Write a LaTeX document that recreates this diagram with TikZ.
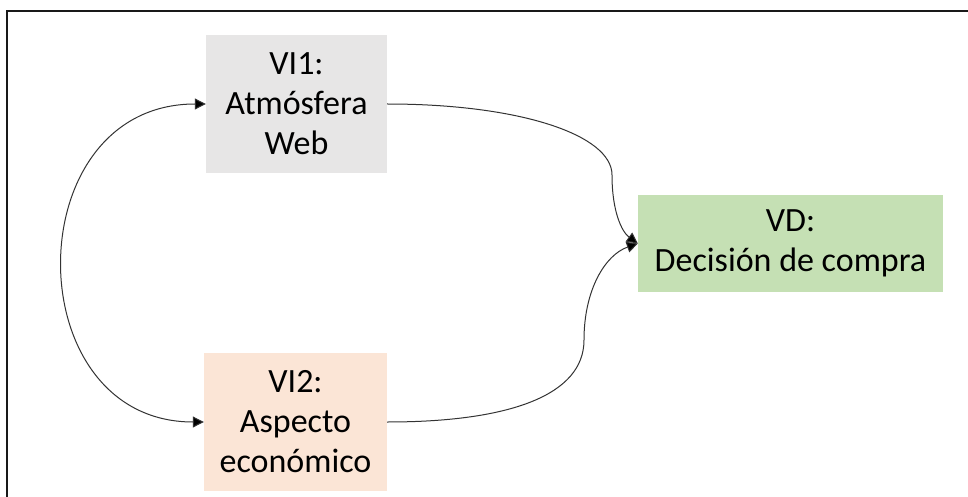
\documentclass[tikz,border=0pt]{standalone}
\usepackage{fontspec}
\setmainfont{Carlito}
\usetikzlibrary{arrows.meta}
\definecolor{grayfill}{HTML}{E7E6E6}
\definecolor{peachfill}{HTML}{FBE5D6}
\definecolor{greenfill}{HTML}{C5E0B4}
\begin{document}
\begin{tikzpicture}[x=1pt,y=-1pt,
  box/.style={rectangle,draw=none,align=center,inner sep=0pt,
    font=\fontsize{34}{40}\selectfont},
  tip/.style={Triangle[length=11pt,width=11pt,fill=black]},
  conn/.style={line width=1pt,draw=black!80,-{Triangle[length=11pt,width=11pt,fill=black]}},
  biconn/.style={line width=1pt,draw=black!80,{Triangle[length=11pt,width=11pt,fill=black]}-{Triangle[length=11pt,width=11pt,fill=black]}}]
\useasboundingbox (0,0) rectangle (968,497);
\fill[white] (0,0) rectangle (968,497);
\draw[line width=2pt,black!90] (6.5,497) -- (6.5,11.5) -- (968,11.5);
\node[box,fill=grayfill,minimum width=181pt,minimum height=138pt] (vi1) at (296.5,104) {VI1:\\Atmósfera\\Web};
\node[box,fill=peachfill,minimum width=183pt,minimum height=138pt] (vi2) at (295.5,422) {VI2:\\Aspecto\\económico};
\node[box,fill=greenfill,minimum width=305pt,minimum height=97pt] (vd) at (790.5,243.5) {VD:\\Decisión de compra};
\draw[biconn] (vi1.west) .. controls (16,104) and (16,422) .. (vi2.west);
\draw[conn] (vi1.east) .. controls (520,104) and (612,135) .. (612,175) .. controls (612,212) and (622,232) .. (vd.west);
\draw[conn] (vi2.east) .. controls (510,422) and (584,395) .. (584,340) .. controls (584,290) and (605,255) .. (vd.west);
\end{tikzpicture}
\end{document}
